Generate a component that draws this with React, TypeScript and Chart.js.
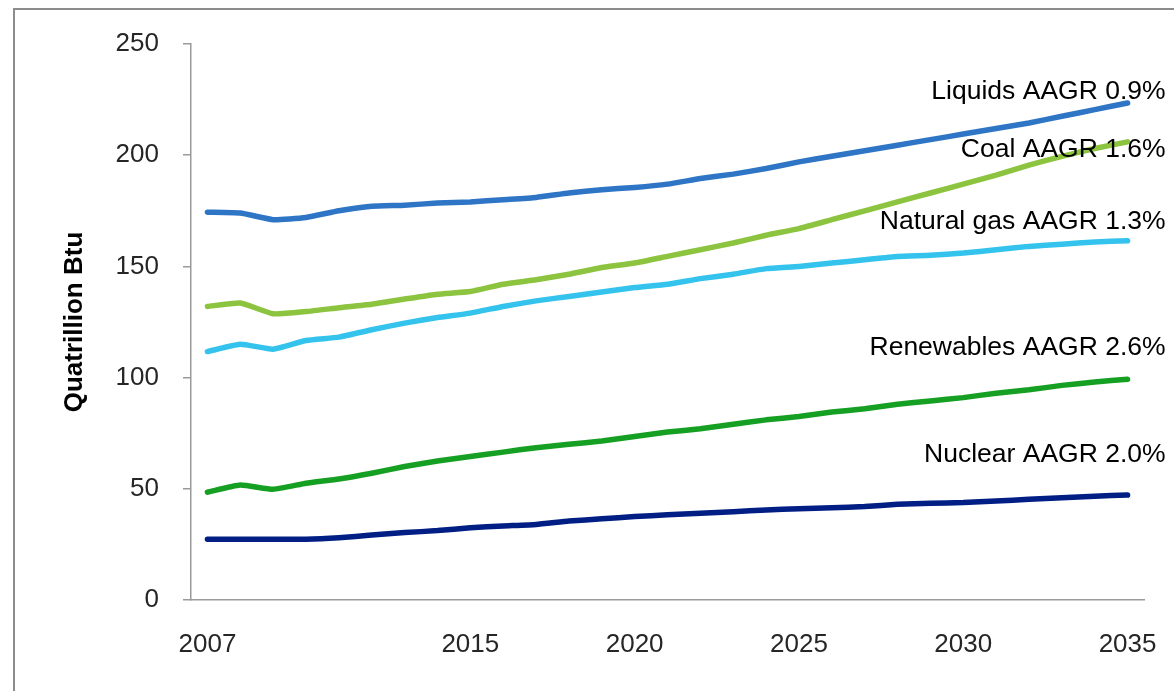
import React, { useEffect, useRef } from "react";
import { Chart, registerables } from "chart.js";

Chart.register(...registerables);

const years = [
  2007, 2008, 2009, 2010, 2011, 2012, 2013, 2014, 2015, 2016, 2017, 2018, 2019, 2020,
  2021, 2022, 2023, 2024, 2025, 2026, 2027, 2028, 2029, 2030, 2031, 2032, 2033, 2034, 2035,
];
const shownYears = [2007, 2015, 2020, 2025, 2030, 2035];

const liquids = [
  174.4, 174, 171, 172, 175, 177, 177.5, 178.5, 179, 180, 181, 183, 184.5, 185.5,
  187, 189.5, 191.5, 194, 197, 199.5, 202, 204.5, 207, 209.5, 212, 214.5, 217.5, 220.5, 223.5,
];
const coal = [
  132, 133.5, 128.7, 129.7, 131.4, 133, 135.3, 137.5, 138.7, 142, 144, 146.5, 149.5, 151.5,
  154.5, 157.5, 160.5, 164, 167, 171, 175, 179, 183, 187, 191, 195.5, 199.5, 203, 206,
];
const naturalGas = [
  111.7, 115, 112.8, 116.7, 118.2, 121.5, 124.5, 127, 129, 132, 134.5, 136.5, 138.5, 140.5,
  142, 144.5, 146.5, 149, 150, 151.5, 153, 154.5, 155, 156, 157.5, 159, 160, 161, 161.5,
];
const renewables = [
  48.5, 51.7, 49.8, 52.5, 54.4, 57, 60, 62.5, 64.5, 66.5, 68.5, 70, 71.5, 73.5,
  75.5, 77, 79, 81, 82.5, 84.5, 86, 88, 89.5, 91, 93, 94.5, 96.5, 98, 99.3,
];
const nuclear = [
  27.3, 27.3, 27.3, 27.3, 28, 29.2, 30.3, 31.2, 32.5, 33.3, 34, 35.5, 36.5, 37.5,
  38.3, 39, 39.7, 40.5, 41, 41.5, 42, 43, 43.5, 43.8, 44.5, 45.3, 46, 46.7, 47.2,
];

const seriesNames = ["Liquids", "Coal", "Natural gas", "Renewables", "Nuclear"];
const seriesLabels = [
  "Liquids AAGR 0.9%",
  "Coal AAGR 1.6%",
  "Natural gas AAGR 1.3%",
  "Renewables AAGR 2.6%",
  "Nuclear AAGR 2.0%",
];
// vertical position of each annotation, in axis units
const labelValues = [228.7, 202.5, 170.2, 113.3, 65.2];
const seriesColors = ["#2e75c6", "#8cc43f", "#34c3ec", "#16a023", "#011e84"];

const yTicks = [0, 50, 100, 150, 200, 250];

const FONT = "'Liberation Sans', Arial, Helvetica, sans-serif";

export default function App() {
  const canvasRef = useRef<HTMLCanvasElement | null>(null);

  useEffect(() => {
    if (!canvasRef.current) return;
    const data = [liquids, coal, naturalGas, renewables, nuclear];

    const labelPlugin = {
      id: "seriesLabels",
      afterDatasetsDraw(chart: any) {
        const { ctx, scales } = chart;
        const xs = scales.x;
        const ys = scales.y;
        const lastX = xs.getPixelForValue(years.length - 1);
        ctx.save();
        ctx.font = `26.5px ${FONT}`;
        ctx.fillStyle = "#000000";
        ctx.textAlign = "right";
        ctx.textBaseline = "middle";
        seriesLabels.forEach((t, i) => {
          ctx.fillText(t, lastX + 38, ys.getPixelForValue(labelValues[i]));
        });
        ctx.restore();
      },
    };

    const chart = new Chart(canvasRef.current, {
      type: "line",
      data: {
        labels: years.map(String),
        datasets: data.map((d, i) => ({
          label: seriesNames[i],
          data: d,
          borderColor: seriesColors[i],
          backgroundColor: seriesColors[i],
          borderWidth: 5.5,
          pointRadius: 0,
          tension: 0.15,
          borderCapStyle: "round" as const,
          borderJoinStyle: "round" as const,
          fill: false,
        })),
      },
      options: {
        animation: false,
        responsive: false,
        maintainAspectRatio: false,
        layout: { padding: { left: 0, right: 30, top: 44, bottom: 0 } },
        plugins: {
          legend: { display: false },
          tooltip: { enabled: false },
          title: { display: false },
        },
        scales: {
          x: {
            type: "category",
            offset: true,
            grid: { display: false, drawTicks: false },
            border: { display: true, color: "#9a9a9a", width: 1.5 },
            ticks: {
              autoSkip: false,
              maxRotation: 0,
              minRotation: 0,
              padding: 29,
              color: "#262626",
              font: { family: FONT, size: 26 },
              callback: (_v: any, idx: number) =>
                shownYears.includes(years[idx]) ? String(years[idx]) : "",
            },
            afterFit: (scale: any) => {
              scale.height = 91;
              scale.paddingLeft = 0;
              scale.paddingRight = 0;
            },
          },
          y: {
            min: 0,
            max: 250,
            afterBuildTicks: (scale: any) => {
              scale.ticks = yTicks.map((v) => ({ value: v }));
            },
            grid: {
              display: true,
              drawOnChartArea: false,
              drawTicks: true,
              tickLength: 8,
              color: "#9a9a9a",
              lineWidth: 1.5,
            },
            border: { display: true, color: "#9a9a9a", width: 1.5 },
            ticks: {
              padding: 24,
              color: "#262626",
              font: { family: FONT, size: 26 },
            },
            title: {
              display: true,
              text: "Quatrillion Btu",
              color: "#000000",
              font: { family: FONT, size: 26, weight: "bold" },
              padding: { top: 59, bottom: 0 },
            },
            afterFit: (scale: any) => {
              scale.width = 191;
              scale.paddingTop = 0;
              scale.paddingBottom = 0;
            },
          },
        },
      },
      plugins: [labelPlugin],
    });
    return () => chart.destroy();
  }, []);

  return (
    <div
      style={{
        position: "fixed",
        left: 0,
        top: 0,
        width: 1174,
        height: 691,
        overflow: "hidden",
        background: "#ffffff",
      }}
    >
      <div
        style={{
          position: "absolute",
          left: 13,
          top: 8,
          right: 0,
          bottom: 0,
          borderLeft: "2px solid #8c8c8c",
          borderTop: "2px solid #8c8c8c",
        }}
      />
      <canvas
        ref={canvasRef}
        width={1174}
        height={691}
        style={{ position: "absolute", left: 0, top: 0, display: "block" }}
      />
    </div>
  );
}
